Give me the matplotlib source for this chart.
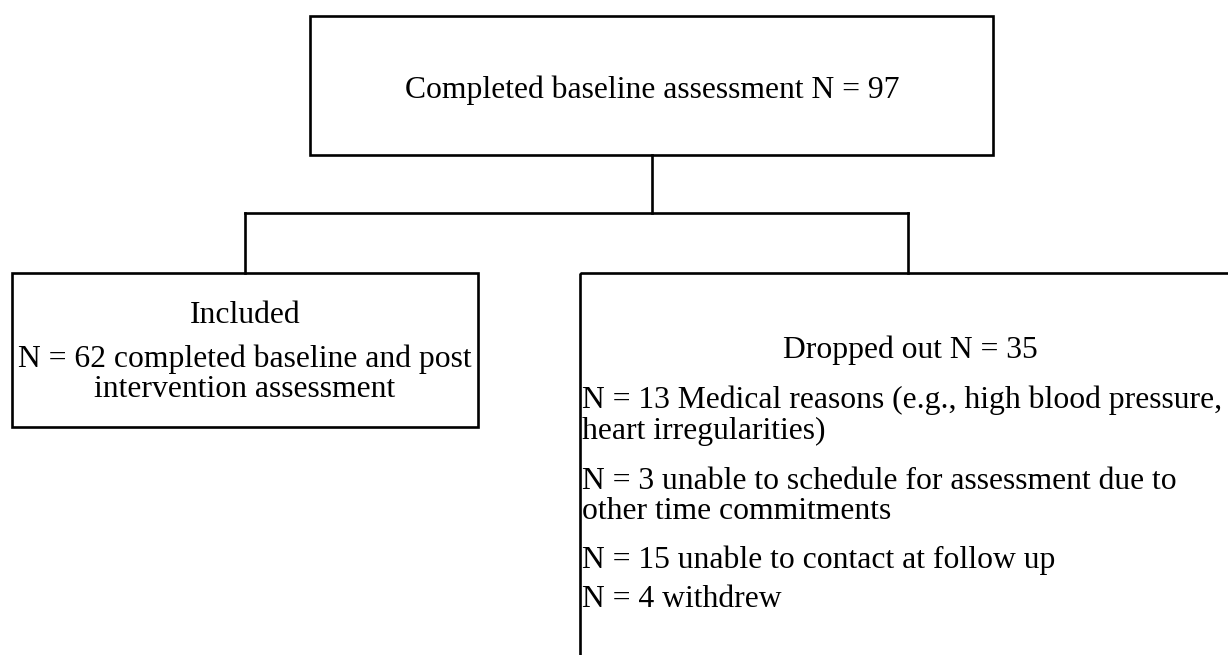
import matplotlib
matplotlib.use("Agg")
import matplotlib.pyplot as plt
from matplotlib.patches import Rectangle

# ---- content ----
top_label = "Completed baseline assessment N = 97"
included_title = "Included"
included_lines = ["N = 62 completed baseline and post", "intervention assessment"]
dropped_title = "Dropped out N = 35"
dropped_lines = [
    "N = 13 Medical reasons (e.g., high blood pressure,",
    "heart irregularities)",
    "N = 3 unable to schedule for assessment due to",
    "other time commitments",
    "N = 15 unable to contact at follow up",
    "N = 4 withdrew",
]

W, H = 1228, 655
fig = plt.figure(figsize=(W / 100, H / 100), dpi=100)
ax = fig.add_axes([0, 0, 1, 1])
ax.set_xlim(0, W)
ax.set_ylim(H, 0)
ax.axis("off")

lw = 1.9
font = dict(family=["Liberation Serif", "DejaVu Serif"], fontsize=22.8, color="black")

# boxes (x, y, w, h) in pixel-like coordinates
boxes = [
    (310, 16, 683, 139),
    (12, 273, 466, 154),
    (580, 273, 700, 450),
]
for (x, y, w, h) in boxes:
    ax.add_patch(Rectangle((x, y), w, h, fill=False, edgecolor="black", lw=lw, clip_on=True))

# connectors
ax.plot([652, 652], [155, 213], color="black", lw=lw)
ax.plot([245, 908], [213, 213], color="black", lw=lw, solid_capstyle="projecting")
ax.plot([245, 245], [213, 273], color="black", lw=lw)
ax.plot([908, 908], [213, 273], color="black", lw=lw)

# texts (baseline anchored)
ax.text(652, 98, top_label, ha="center", va="baseline", **font)
ax.text(245, 323, included_title, ha="center", va="baseline", **font)
for yy, t in zip([367, 397], included_lines):
    ax.text(245, yy, t, ha="center", va="baseline", **font)
ax.text(910, 358, dropped_title, ha="center", va="baseline", **font)
for yy, t in zip([408, 439, 489, 519, 568, 607], dropped_lines):
    ax.text(582, yy, t, ha="left", va="baseline", **font)

fig.savefig("out.png", dpi=100)
